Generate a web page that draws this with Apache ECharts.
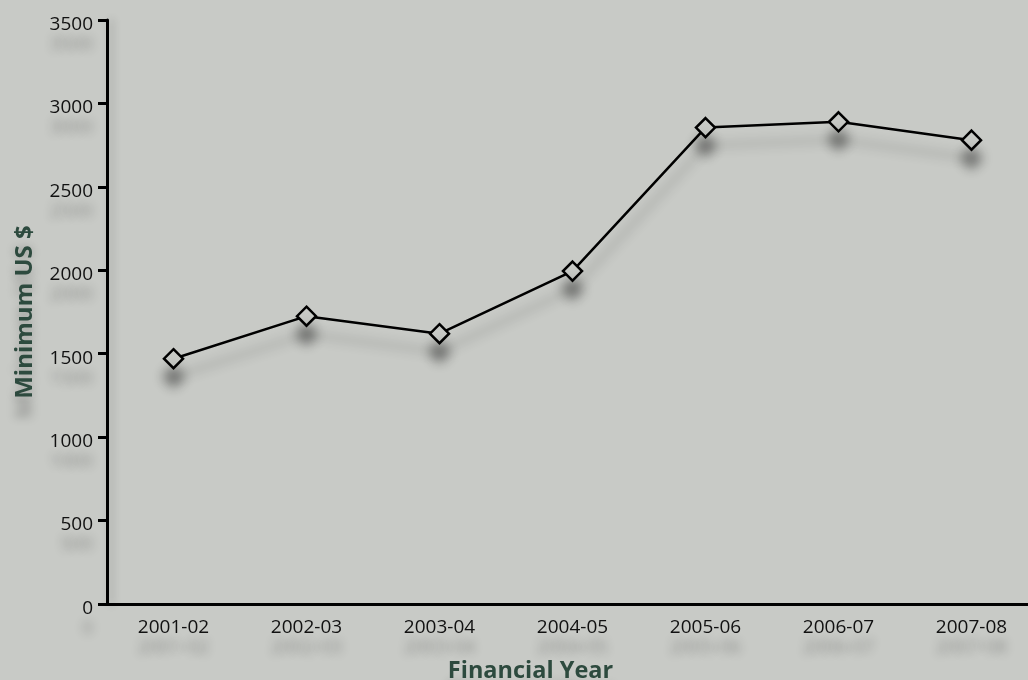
<!DOCTYPE html>
<html><head><meta charset="utf-8">
<script src="https://cdn.jsdelivr.net/npm/echarts@6/dist/echarts.min.js"></script>
<style>html,body{margin:0;padding:0;background:#c8cac6;}#c{width:1028px;height:680px;}</style>
</head><body><div id="c"></div>
<script>
const categories = ['2001-02','2002-03','2003-04','2004-05','2005-06','2006-07','2007-08'];
const minimumUSD = [1470, 1725, 1620, 1995, 2855, 2890, 2780];
const yTicks = { min: 0, max: 3500, interval: 500 };

const shadowText = { textShadowColor: 'rgba(0,0,0,0.3)', textShadowBlur: 10, textShadowOffsetY: 20 };
const chart = echarts.init(document.getElementById('c'));
chart.setOption({
  backgroundColor: '#c8cac6',
  animation: false,
  grid: { left: 107, right: -10, top: 20, bottom: 76, containLabel: false, outerBoundsMode: 'none' },
  xAxis: {
    type: 'category', data: categories, boundaryGap: true,
    name: 'Financial Year', nameLocation: 'middle', nameGap: 55,
    nameTextStyle: { fontFamily: 'Open Sans', fontWeight: 'bold', fontSize: 23.5, color: '#2d4a3e', padding: [0, 84, 0, 0], textShadowColor:'rgba(0,0,0,0.25)', textShadowBlur:10, textShadowOffsetY: 20 },
    axisLine: { lineStyle: { color: '#000', width: 3 } },
    axisTick: { length: 9, lineStyle: { color: '#000', width: 3, shadowColor: 'rgba(0,0,0,0.3)', shadowBlur: 8, shadowOffsetY: 18 } },
    axisLabel: Object.assign({ fontFamily: 'Open Sans', fontSize: 19, color: '#111', margin: 14, formatter: v => v }, shadowText)
  },
  yAxis: {
    type: 'value', min: yTicks.min, max: yTicks.max, interval: yTicks.interval,
    name: 'Minimum US $', nameLocation: 'middle', nameGap: 70, nameRotate: 90,
    nameTextStyle: { fontFamily: 'Open Sans', fontWeight: 'bold', fontSize: 24, color: '#2d4a3e', textShadowColor:'rgba(0,0,0,0.25)', textShadowBlur:10, textShadowOffsetY: 20 },
    splitLine: { show: false },
    axisLine: { show: true, lineStyle: { color: '#000', width: 3, shadowColor: 'rgba(0,0,0,0.2)', shadowBlur: 8, shadowOffsetX: 4 } },
    axisTick: { show: true, length: 9, lineStyle: { color: '#000', width: 3 } },
    axisLabel: Object.assign({
      fontFamily: 'Open Sans', fontSize: 19, color: '#111', margin: 14,
      formatter: v => '{a|' + v + '}',
      rich: { a: { fontFamily: 'Open Sans', fontSize: 19, color: '#111', padding: [9, 0, 0, 0], textShadowColor: 'rgba(0,0,0,0.3)', textShadowBlur: 10, textShadowOffsetY: 20 } }
    }, shadowText)
  },
  series: [{
    type: 'line', data: minimumUSD,
    symbol: 'diamond', symbolSize: 19,
    itemStyle: { color: '#c8cac6', borderColor: '#000', borderWidth: 2.5, shadowColor: 'rgba(0,0,0,0.4)', shadowBlur: 12, shadowOffsetY: 18 },
    lineStyle: { color: '#000', width: 2.5, shadowColor: 'rgba(0,0,0,0.3)', shadowBlur: 12, shadowOffsetY: 18 }
  }]
});
</script></body></html>
